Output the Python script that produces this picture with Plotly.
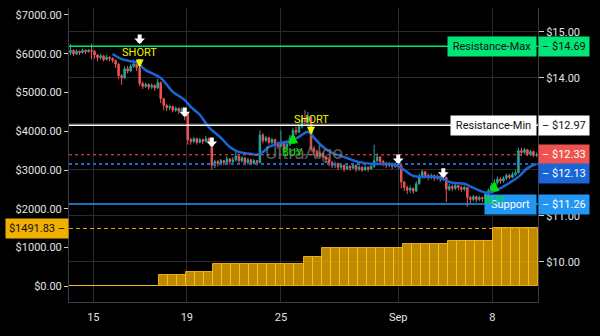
import plotly.graph_objects as go

# ---------------- data ----------------
first_open = 14.55
close = [14.60,14.52,14.58,14.55,14.60,14.57,14.60,14.58,14.50,14.44,
         14.48,14.40,14.45,14.42,14.38,14.30,14.05,14.00,14.20,14.15,
         14.25,14.30,14.22,13.88,13.82,13.86,13.80,13.84,13.78,13.90,
         13.55,13.40,13.35,13.38,13.30,13.34,13.28,13.32,13.22,12.66,
         12.62,12.68,12.60,12.66,12.62,12.68,12.64,12.10,12.18,12.14,
         12.20,12.16,12.24,12.18,12.22,12.30,12.20,12.26,12.16,12.22,
         12.14,12.20,12.16,12.76,12.64,12.70,12.60,12.66,12.58,12.52,
         12.60,12.48,12.56,12.70,12.86,12.82,12.94,13.10,13.05,13.15,
         12.46,12.40,12.30,12.36,12.28,12.22,12.16,12.10,12.14,12.06,
         12.10,12.02,12.08,12.04,12.10,12.02,12.06,12.00,12.06,12.02,
         12.08,12.20,12.28,12.18,12.14,12.10,12.14,12.08,12.12,12.10,
         11.74,11.62,11.56,11.60,11.54,11.70,11.84,11.96,11.88,11.84,
         11.88,11.82,11.86,11.80,11.84,11.58,11.64,11.60,11.66,11.62,
         11.58,11.62,11.40,11.36,11.42,11.36,11.40,11.38,11.48,11.55,
         11.66,11.72,11.80,11.76,11.82,11.88,11.84,11.90,11.94,12.42,
         12.38,12.44,12.34,12.40,12.32,12.33]
high = [14.74,14.62,14.62,14.60,14.64,14.62,14.63,14.75,14.60,14.52,
        14.52,14.50,14.50,14.47,14.45,14.40,14.32,14.08,14.25,14.26,
        14.30,14.40,14.36,14.30,13.92,13.90,13.88,13.88,13.86,13.98,
        13.92,13.56,13.44,13.42,13.40,13.38,13.36,13.36,13.34,13.25,
        12.70,12.72,12.70,12.70,12.68,12.74,12.70,12.66,12.22,12.22,
        12.24,12.22,12.30,12.26,12.28,12.44,12.32,12.30,12.28,12.26,
        12.24,12.24,12.22,12.86,12.80,12.74,12.72,12.70,12.68,12.62,
        12.86,12.62,12.60,12.76,12.92,12.95,13.00,13.20,13.30,13.26,
        13.12,12.52,12.44,12.40,12.38,12.32,12.26,12.20,12.18,12.16,
        12.14,12.12,12.12,12.10,12.14,12.12,12.10,12.08,12.10,12.08,
        12.12,12.55,12.36,12.30,12.22,12.18,12.18,12.16,12.16,12.14,
        12.10,11.76,11.66,11.66,11.62,11.76,11.92,12.00,11.98,11.92,
        11.92,11.90,11.90,11.88,11.88,11.84,11.70,11.68,11.70,11.68,
        11.66,11.66,11.62,11.44,11.46,11.44,11.44,11.42,11.52,11.60,
        11.72,11.80,11.86,11.84,11.86,11.92,11.92,11.96,12.00,12.48,
        12.48,12.48,12.46,12.44,12.42,12.38]
low = [14.50,14.48,14.50,14.50,14.53,14.52,14.55,14.40,14.42,14.36,
       14.40,14.36,14.38,14.36,14.33,14.22,13.98,13.85,13.98,14.10,
       14.12,14.22,14.15,13.82,13.76,13.78,13.74,13.76,13.72,13.76,
       13.45,13.30,13.28,13.30,13.25,13.26,13.22,13.24,13.08,12.55,
       12.55,12.58,12.55,12.58,12.56,12.60,12.58,12.00,12.04,12.08,
       12.10,12.10,12.14,12.12,12.14,12.18,12.14,12.16,12.10,12.12,
       12.10,12.12,12.10,12.14,12.58,12.60,12.55,12.56,12.52,12.46,
       12.48,12.42,12.44,12.52,12.66,12.76,12.80,12.90,12.98,12.96,
       12.40,12.32,12.24,12.26,12.20,12.16,12.08,12.04,12.04,12.00,
       12.02,11.96,12.00,11.98,12.02,11.96,11.98,11.96,11.98,11.96,
       12.00,12.04,12.16,12.12,12.08,12.04,12.06,12.02,12.04,12.02,
       11.60,11.54,11.48,11.50,11.48,11.52,11.68,11.82,11.82,11.78,
       11.80,11.76,11.78,11.74,11.76,11.30,11.54,11.54,11.56,11.56,
       11.52,11.54,11.20,11.28,11.32,11.30,11.32,11.30,11.36,11.44,
       11.52,11.62,11.68,11.70,11.72,11.78,11.80,11.82,11.86,11.92,
       12.30,12.34,12.30,12.30,12.28,12.28]
open_ = [first_open] + close[:-1]

# moving average (candle index, value)
ma_idx = [14,17,22,25,30,34,38,40,43,46,50,53,56,60,62,64,66,70,73,76,79,81,
          84,87,92,96,101,104,108,111,114,117,121,124,127,131,134,139,142,146,149,152,155]
ma_val = [14.52,14.41,14.33,14.17,14.00,13.70,13.52,13.37,13.20,12.93,12.70,12.50,
          12.39,12.35,12.33,12.39,12.50,12.59,12.63,12.72,12.83,12.70,12.50,12.37,
          12.26,12.17,12.13,12.13,12.11,12.00,11.87,11.85,11.85,11.80,11.72,11.70,
          11.61,11.50,11.57,11.72,11.85,12.04,12.13]

# cumulative P&L histogram (one bar per 3 candles)
pnl = [12]*10 + [297]*3 + [374]*3 + [580]*10 + [761]*2 + [993]*9 + [1096]*5 + [1174]*5 + [1491.83]*5

# levels
res_max = 14.69
res_min = 12.97
support = 11.26
last_price = 12.33
ma_last = 12.13
pnl_last = 1491.83

# signals
white_idx = [23, 38, 47, 109, 124]
white_price = [14.74, 13.15, 12.50, 12.13, 11.83]
short_idx = [23, 80]
short_price = [14.22, 12.76]
buy_idx = [74, 141]
buy_price = [12.80, 11.76]

x_tick_pos = [7.6, 38.7, 70, 109, 140.3]
x_tick_text = ["15", "19", "25", "Sep", "8"]
left_ticks = [0, 1000, 2000, 3000, 4000, 5000, 6000, 7000]
left_tick_text = ["$0.00", "$1000.00", "$2000.00", "$3000.00", "$4000.00", "$5000.00", "$6000.00", "$7000.00"]
right_ticks = [10, 11, 12, 13, 14, 15]
right_tick_text = ["$10.00", "$11.00", "", "", "$14.00", "$15.00"]  # $12/$13 hidden under labels

# ---------------- figure ----------------
n = len(close)
xs = list(range(n))
bar_x = [3 * k + 1 for k in range(len(pnl))]

GRID = '#2a2a36'
AXL = '#3a3a4e'
FONT = 'Roboto'
TXT = '#e2e2e2'

fig = go.Figure()
fig.add_trace(go.Candlestick(
    x=xs, open=open_, high=high, low=low, close=close,
    increasing=dict(line=dict(color='#26a69a', width=1), fillcolor='#26a69a'),
    decreasing=dict(line=dict(color='#ef5350', width=1), fillcolor='#ef5350'),
    whiskerwidth=0, hoverinfo='skip', yaxis='y'))
fig.add_trace(go.Scatter(x=ma_idx, y=ma_val, mode='lines',
                         line=dict(color='#1a66d6', width=2.5, shape='spline', smoothing=1.0),
                         hoverinfo='skip', yaxis='y'))
fig.add_trace(go.Bar(x=bar_x, y=pnl, width=3, yaxis='y2',
                     marker=dict(color='rgba(255,184,0,0.75)',
                                 line=dict(color='rgba(255,190,20,0.85)', width=1)),
                     hoverinfo='skip'))

shapes = []
def hline(y, color, width, dash='solid', yref='y'):
    shapes.append(dict(type='line', xref='paper', x0=0, x1=1, yref=yref, y0=y, y1=y,
                       line=dict(color=color, width=width, dash=dash), layer='above'))

hline(res_max, '#00e676', 1.5)
hline(res_min, '#ffffff', 1.5)
hline(support, '#2196f3', 1.5)
hline(last_price, '#ef5350', 1.2, 'dot')
hline(ma_last, '#1a66d6', 2, 'dot')
hline(pnl_last, '#e0a000', 1.2, '4px,3px', yref='y2')

anns = []
# watermark
anns.append(dict(x=0.5, y=0.507, xref='paper', yref='paper', text='UltraAlgo', showarrow=False,
                 font=dict(family=FONT, size=19, color='rgba(130,130,130,0.7)')))

def price_label(v, bg, fg, yshift=0):
    anns.append(dict(x=1, y=v, xref='paper', yref='y', text='– $%.2f' % v, showarrow=False,
                     xanchor='left', yanchor='middle', align='left', width=44, borderpad=3,
                     bgcolor=bg, yshift=yshift, font=dict(family=FONT, size=11, color=fg)))

def name_label(v, text, bg, fg, w):
    anns.append(dict(x=1, y=v, xref='paper', yref='y', text=text, showarrow=False,
                     xanchor='right', yanchor='middle', align='center', width=w, borderpad=3,
                     bgcolor=bg, xshift=-1, font=dict(family=FONT, size=11, color=fg)))

price_label(res_max, '#00e676', '#111111')
price_label(res_min, '#ffffff', '#111111')
price_label(last_price, '#ef5350', '#ffffff')
price_label(ma_last, '#1a66d6', '#ffffff', yshift=-10)
price_label(support, '#2196f3', '#ffffff')
name_label(res_max, 'Resistance-Max', '#00e676', '#111111', 82)
name_label(res_min, 'Resistance-Min', '#ffffff', '#111111', 79)
name_label(support, 'Support', '#2196f3', '#ffffff', 45)
anns.append(dict(x=0, y=pnl_last, xref='paper', yref='y2', text='$%.2f –' % pnl_last,
                 showarrow=False, xanchor='right', yanchor='middle', align='right', width=56,
                 borderpad=3, bgcolor='#f0b000', font=dict(family=FONT, size=11, color='#111111')))

# signal markers drawn on top of the labels
for xi, p in zip(white_idx, white_price):
    anns.append(dict(x=xi, y=p, xref='x', yref='y', text='', showarrow=True,
                     arrowhead=1, arrowsize=0.45, arrowwidth=4, arrowcolor='#ffffff', ax=0, ay=-11))
for xi, p in zip(short_idx, short_price):
    anns.append(dict(x=xi, y=p, xref='x', yref='y', text='', showarrow=True,
                     arrowhead=2, arrowsize=0.55, arrowwidth=3, arrowcolor='#f2f200', ax=0, ay=-10))
    anns.append(dict(x=xi, y=p, xref='x', yref='y', text='SHORT', showarrow=False,
                     yanchor='middle', yshift=15, font=dict(family=FONT, size=11, color='#f2f200')))
for xi, p in zip(buy_idx, buy_price):
    anns.append(dict(x=xi, y=p, xref='x', yref='y', text='', showarrow=True,
                     arrowhead=2, arrowsize=0.5, arrowwidth=4, arrowcolor='#00e400', ax=0, ay=12))
    anns.append(dict(x=xi, y=p, xref='x', yref='y', text='BUY', showarrow=False,
                     yanchor='middle', yshift=-19, font=dict(family=FONT, size=11, color='#00e400')))

fig.update_layout(
    width=600, height=336,
    margin=dict(l=69, r=62, t=8, b=34, pad=0),
    paper_bgcolor='#000000', plot_bgcolor='#000000',
    showlegend=False, hovermode=False,
    font=dict(family=FONT, size=11, color=TXT),
    shapes=shapes, annotations=anns,
    xaxis=dict(range=[-0.5, n - 0.5], tickmode='array', tickvals=x_tick_pos, ticktext=x_tick_text,
               showgrid=True, gridcolor=GRID, gridwidth=1, showline=True, linecolor=AXL,
               zeroline=False, ticks='', ticklabelstandoff=5, rangeslider=dict(visible=False),
               tickfont=dict(family=FONT, size=11, color=TXT), fixedrange=True),
    yaxis=dict(side='right', range=[9.13, 15.52], tickmode='array', tickvals=right_ticks,
               ticktext=right_tick_text, showgrid=True, gridcolor=GRID,
               showline=True, linecolor=AXL, zeroline=False, ticks='outside', ticklen=5,
               tickcolor='#cfcfcf', tickfont=dict(family=FONT, size=11, color=TXT),
               fixedrange=True),
    yaxis2=dict(overlaying='y', side='left', range=[-405, 7180], tickmode='array',
                tickvals=left_ticks, ticktext=left_tick_text, showgrid=False,
                showline=True, linecolor=AXL, zeroline=False, ticks='outside', ticklen=4,
                tickcolor='#cfcfcf', tickfont=dict(family=FONT, size=11, color=TXT),
                fixedrange=True),
    bargap=0,
)

fig.write_html("out.html")
